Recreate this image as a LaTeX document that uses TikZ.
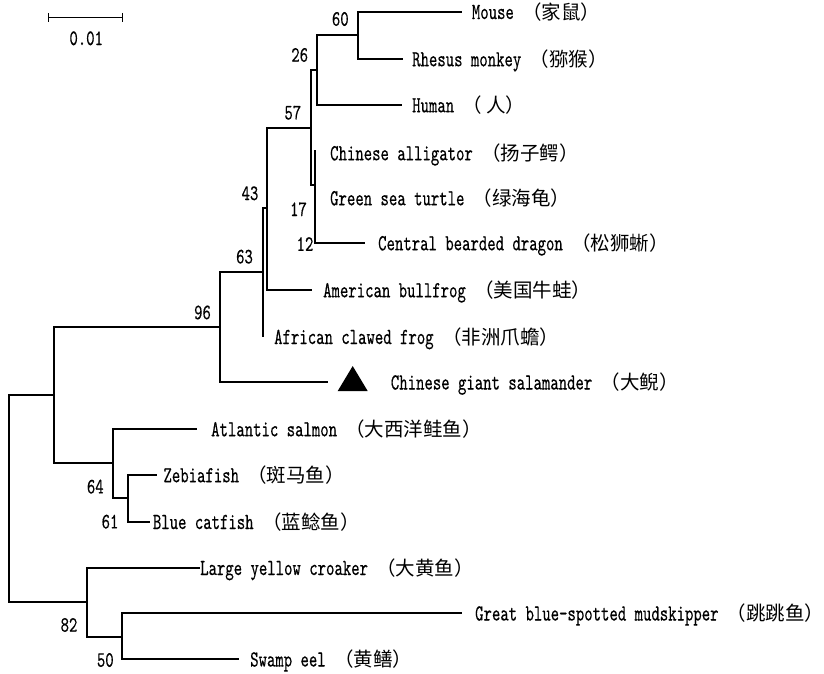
\documentclass[tikz,border=0pt]{standalone}
\usepackage{fontspec}
\usetikzlibrary{arrows.meta}
\newfontfamily\lab{lmmono10-regular.otf}[FakeStretch=0.695,FakeBold=0.4]
\newfontfamily\num{lmmono10-regular.otf}[FakeStretch=0.725,FakeBold=0.4]
\newfontfamily\cjk{Noto Sans CJK SC}
\newcommand{\tx}[2]{{\fontsize{23}{24}\lab #1 }{\fontsize{19.5}{22}\cjk #2}}
\tikzset{
  branch/.style={line width=2pt, line join=miter},
  leaf/.style={anchor=base west, inner sep=0pt},
  boot/.style={anchor=center, inner sep=0pt, font=\fontsize{22}{24}\num},
}
\begin{document}
\begin{tikzpicture}[x=1pt, y=-1pt]
\useasboundingbox (0,0) rectangle (824,673);
% internal nodes
\coordinate (root) at (9.3,498);
\coordinate (nA)  at (54.3,395);
\coordinate (n96) at (220,326.7);
\coordinate (n63) at (262.7,271.7);
\coordinate (n43) at (267.3,208.3);
\coordinate (n57) at (310.7,127.7);
\coordinate (n26) at (317.3,70);
\coordinate (n60) at (357.7,35);
\coordinate (n17) at (315.3,185);
\coordinate (n64) at (112.7,462.7);
\coordinate (n61) at (127.7,497.7);
\coordinate (n82) at (86.7,601.7);
\coordinate (n50) at (121.7,636.7);
% tips
\coordinate (tMouse) at (461.7,11.7);
\coordinate (tRhesus) at (403.3,59);
\coordinate (tHuman) at (401.7,105);
\coordinate (tAlli) at (315.3,150);
\coordinate (tTurtle) at (315.3,198);
\coordinate (tCentral) at (365,243);
\coordinate (tBull) at (311.7,290);
\coordinate (tAfr) at (262.7,336.7);
\coordinate (tSal) at (328.3,382.3);
\coordinate (tAtl) at (196.7,429);
\coordinate (tZeb) at (156.7,475);
\coordinate (tBlue) at (150,521.7);
\coordinate (tLarge) at (200,567.7);
\coordinate (tMud) at (461.7,613.3);
\coordinate (tSwamp) at (239.3,659.3);
% branches
\draw[branch] (root) |- (nA);
\draw[branch] (root) |- (n82);
\draw[branch] (nA) |- (n96);
\draw[branch] (nA) |- (n64);
\draw[branch] (n96) |- (n63);
\draw[branch] (n96) |- (tSal);
\draw[branch] (n63) |- (n43);
\draw[branch] (n63) |- (tAfr);
\draw[branch] (n43) |- (n57);
\draw[branch] (n43) |- (tBull);
\draw[branch] (n57) |- (n26);
\draw[branch] (n57) |- (n17);
\draw[branch] (n26) |- (n60);
\draw[branch] (n26) |- (tHuman);
\draw[branch] (n60) |- (tMouse);
\draw[branch] (n60) |- (tRhesus);
\draw[branch] (n17) |- (tAlli);
\draw[branch] (n17) |- (tCentral);
\draw[branch] (n64) |- (tAtl);
\draw[branch] (n64) |- (n61);
\draw[branch] (n61) |- (tZeb);
\draw[branch] (n61) |- (tBlue);
\draw[branch] (n82) |- (tLarge);
\draw[branch] (n82) |- (n50);
\draw[branch] (n50) |- (tMud);
\draw[branch] (n50) |- (tSwamp);
% leaf labels
\node[leaf] (lMouse) at (471.7,19) {\tx{Mouse}{（家鼠）}};
\node[leaf] (lRhesus) at (412,66.3) {\tx{Rhesus monkey}{（猕猴）}};
\node[leaf] (lHuman) at (412,112.3) {\tx{Human}{（ 人）}};
\node[leaf] (lAlli) at (330,160.3) {\tx{Chinese alligator}{（扬子鳄）}};
\node[leaf] (lTurtle) at (330,205.3) {\tx{Green sea turtle}{（绿海龟）}};
\node[leaf] (lCentral) at (378,250.3) {\tx{Central bearded dragon}{（松狮蜥）}};
\node[leaf] (lBull) at (323,297.3) {\tx{American bullfrog}{（美国牛蛙）}};
\node[leaf] (lAfr) at (274,344) {\tx{African clawed frog}{（非洲爪蟾）}};
\node[leaf] (lSal) at (390.7,389.5) {\tx{Chinese giant salamander}{（大鲵）}};
\node[leaf] (lAtl) at (211,436.3) {\tx{Atlantic salmon}{（大西洋鲑鱼）}};
\node[leaf] (lZeb) at (163.3,482.3) {\tx{Zebiafish}{（斑马鱼）}};
\node[leaf] (lBlue) at (152.7,529) {\tx{Blue catfish}{（蓝鲶鱼）}};
\node[leaf] (lLarge) at (200,575) {\tx{Large yellow croaker}{（大黄鱼）}};
\node[leaf] (lMud) at (475,620.5) {\tx{Great blue-spotted mudskipper}{（跳跳鱼）}};
\node[leaf] (lSwamp) at (250,666.5) {\tx{Swamp eel}{（黄鳝）}};
% marker
\coordinate (triTop) at (352.7,366);
\fill (triTop) -- ++(-15,25) -- ++(30,0) -- cycle;
% bootstrap values
\node[boot] (b60) at (340.3,19) {60};
\node[boot] (b26) at (299.7,55) {26};
\node[boot] (b57) at (292.8,112.7) {57};
\node[boot] (b43) at (250,193.3) {43};
\node[boot] (b17) at (298.5,209.3) {17};
\node[boot] (b12) at (305,244) {12};
\node[boot] (b63) at (244.5,256.7) {63};
\node[boot] (b96) at (202.5,312.5) {96};
\node[boot] (b64) at (95.3,486.7) {64};
\node[boot] (b61) at (110,521.7) {61};
\node[boot] (b82) at (69,625) {82};
\node[boot] (b50) at (105.3,660) {50};
% scale bar
\coordinate (sbL) at (47.7,17.3);
\coordinate (sbR) at (122.7,17.3);
\draw[line width=1pt, {Bar[width=9pt,line width=1pt]}-{Bar[width=9pt,line width=1pt]}] (sbL) -- (sbR);
\node[boot] (sbText) at (86.2,38.3) {0.01};
\end{tikzpicture}
\end{document}
